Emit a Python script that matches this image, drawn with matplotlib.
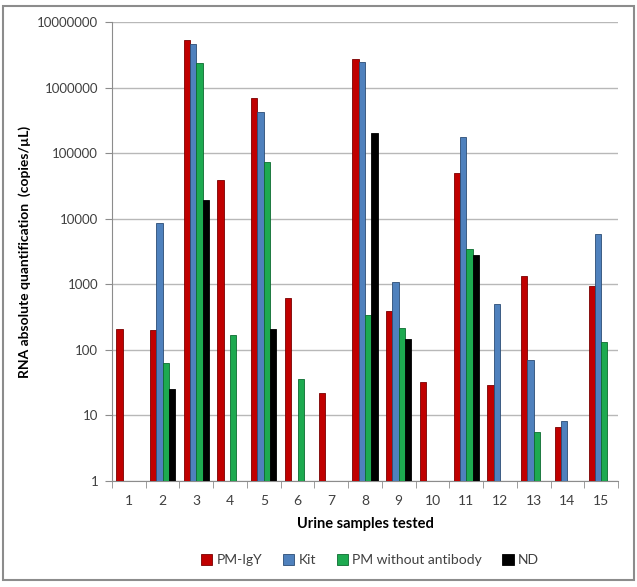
import numpy as np
import matplotlib
matplotlib.use("Agg")
import matplotlib.pyplot as plt
from matplotlib.patches import Rectangle

plt.rcParams['font.family'] = ['Lato', 'DejaVu Sans']

samples = [str(i) for i in range(1, 16)]
nan = np.nan
pm_igy = [207, 200, 5.4e6, 39000, 7.0e5, 610, 21.7, 2.7e6, 390, 32, 49000, 29, 1330, 6.7, 950]
kit = [nan, 8500, 4.6e6, nan, 4.3e5, nan, nan, 2.45e6, 1090, nan, 1.78e5, 503, 69, 8.1, 5750]
pm_no_ab = [nan, 63, 2.35e6, 168, 74000, 36, nan, 340, 218, nan, 3500, nan, 5.5, nan, 131]
nd = [nan, 25, 19600, nan, 208, nan, nan, 2.0e5, 144, nan, 2800, nan, nan, nan, nan]

series = [("PM-IgY", pm_igy, "#C00000", "#7a0000"),
          ("Kit", kit, "#4F81BD", "#2c4d75"),
          ("PM without antibody", pm_no_ab, "#1DAA50", "#0d6b30"),
          ("ND", nd, "#000000", "#000000")]

fig = plt.figure(figsize=(6.37, 5.87), dpi=100)
fig.patches.append(Rectangle((0.005, 0.012), 0.99, 0.978, transform=fig.transFigure,
                             fill=False, edgecolor="#8c8c8c", linewidth=1.5))
ax = fig.add_axes([112/637, 1-481/587, (618-112)/637, (481-22)/587])

x = np.arange(len(samples))
w = 0.187
for i, (name, vals, col, ec) in enumerate(series):
    ax.bar(x + (i - 1.5) * w, vals, width=w, color=col, edgecolor=ec, linewidth=0.6,
           label=name, zorder=3)

ax.set_yscale('log')
ax.set_ylim(1, 1e7)
ax.set_xlim(-0.5, len(samples) - 0.5)
yt = [10**k for k in range(8)]
ax.set_yticks(yt)
ax.set_yticklabels([str(v) for v in yt])
ax.yaxis.set_minor_locator(matplotlib.ticker.NullLocator())
ax.set_xticks(x)
ax.set_xticklabels(samples)
ax.set_xticks(np.arange(-0.5, len(samples), 1), minor=True)
ax.tick_params(axis='x', which='major', length=0, pad=10, labelsize=10, labelcolor="#404040")
ax.tick_params(axis='x', which='minor', length=5, color="#8c8c8c", direction='out')
ax.tick_params(axis='y', which='major', length=5, color="#8c8c8c", pad=5, labelsize=9.5, labelcolor="#404040")
ax.grid(axis='y', color="#b8b8b8", linewidth=1.0, zorder=0)
for s in ['top', 'right']:
    ax.spines[s].set_visible(False)
for s in ['left', 'bottom']:
    ax.spines[s].set_color("#8c8c8c")

ax.set_xlabel("Urine samples tested", fontsize=10.5, fontweight='bold', labelpad=7)
ax.set_ylabel("RNA absolute quantification  (copies/µL)", fontsize=10, fontweight='bold', labelpad=4)

leg = fig.legend(loc='center', bbox_to_anchor=(370/637, 1-560/587), ncol=4, frameon=False,
                 fontsize=10, handlelength=0.8, handleheight=0.8, handletextpad=0.3,
                 columnspacing=1.5)
for t in leg.get_texts():
    t.set_color("#404040")

fig.savefig("out.png", dpi=100)
